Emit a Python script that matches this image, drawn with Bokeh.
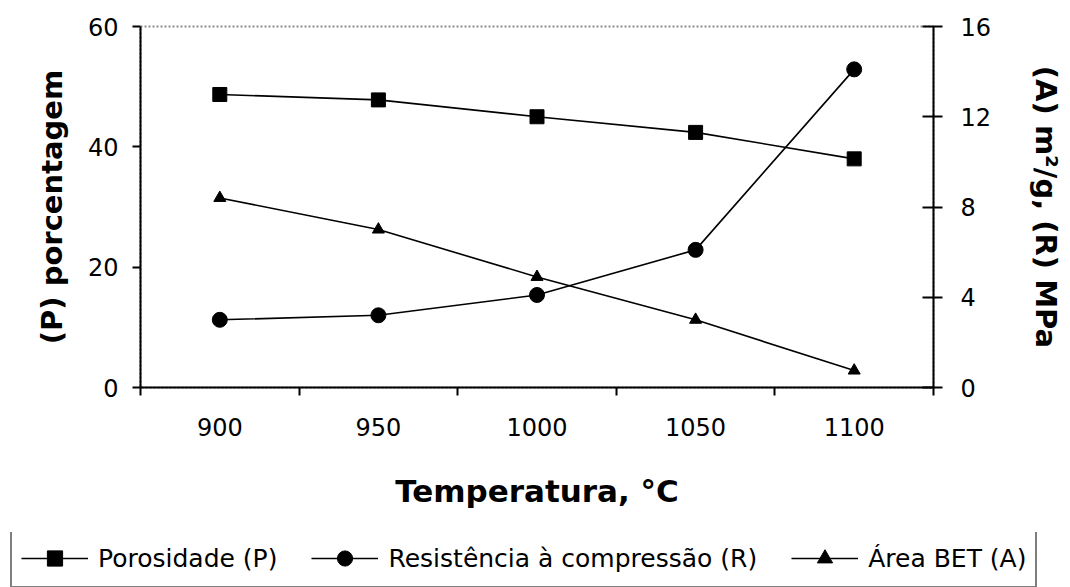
from bokeh.plotting import figure
from bokeh.layouts import column
from bokeh.models import Range1d, LinearAxis, FixedTicker, Legend, LegendItem
from bokeh.embed import file_html
from bokeh.resources import INLINE

# ---- data ----
temps = ["900", "950", "1000", "1050", "1100"]
porosidade = [48.7, 47.8, 45.0, 42.4, 38.0]      # left axis (%)
resistencia = [3.0, 3.2, 4.1, 6.1, 14.1]         # right axis (MPa)
area_bet = [8.4, 7.0, 4.9, 3.0, 0.75]            # right axis (m2/g)
left_ticks = [0, 20, 40, 60]
right_ticks = [0, 4, 8, 12, 16]

x = [i + 0.5 for i in range(len(temps))]
bounds = list(range(len(temps) + 1))

FONT = "DejaVu Sans"

p = figure(width=1070, height=532, output_backend="svg", toolbar_location=None,
           x_range=Range1d(0, len(temps)), y_range=Range1d(0, 60),
           min_border_left=140, min_border_right=137, min_border_top=26,
           min_border_bottom=145, x_axis_location=None, y_axis_location=None,
           frame_align=False)
p.xgrid.visible = False
p.ygrid.visible = False
p.outline_line_color = "#8c8c8c"
p.outline_line_dash = "2 2"
p.outline_line_width = 2
p.background_fill_color = "white"
p.border_fill_color = "white"
p.extra_y_ranges = {"right": Range1d(0, 16)}

# bottom axis
xa = LinearAxis(ticker=FixedTicker(ticks=x, minor_ticks=bounds),
                major_label_overrides={xv: t for xv, t in zip(x, temps)},
                axis_label="Temperatura, °C")
xa.major_tick_line_color = None
xa.major_tick_out = 0
xa.major_tick_in = 0
xa.minor_tick_out = 8
xa.minor_tick_in = 0
xa.minor_tick_line_color = "black"
xa.minor_tick_line_width = 2
xa.major_label_standoff = 22
xa.axis_label_standoff = 34
p.add_layout(xa, "below")

# left axis
ya = LinearAxis(ticker=FixedTicker(ticks=left_ticks), axis_label="(P) porcentagem")
ya.major_tick_out = 8
ya.major_tick_in = 0
ya.minor_tick_line_color = None
ya.major_label_standoff = 14
ya.axis_label_standoff = 16
p.add_layout(ya, "left")

# right axis
ra = LinearAxis(y_range_name="right", ticker=FixedTicker(ticks=right_ticks),
                axis_label="(A) m²/g, (R) MPa")
ra.major_tick_out = 9
ra.major_tick_in = 11
ra.minor_tick_line_color = None
ra.major_label_standoff = 18
ra.axis_label_standoff = 35
p.add_layout(ra, "right")

for ax in (xa, ya, ra):
    ax.axis_line_color = "black"
    ax.axis_line_width = 2
    ax.major_tick_line_width = 2
    ax.major_label_text_font = FONT
    ax.major_label_text_font_size = "24px"
    ax.major_label_text_color = "black"
    ax.axis_label_text_font = FONT
    ax.axis_label_text_font_style = "bold"
    ax.axis_label_text_font_size = "29px"
    ax.axis_label_text_color = "black"
xa.axis_label_text_font_size = "31px"


def draw_series(fig):
    rl1 = fig.line(x, porosidade, line_color="black", line_width=1.6)
    rm1 = fig.scatter(x, porosidade, marker="square", size=14, color="black")
    rl2 = fig.line(x, resistencia, line_color="black", line_width=1.6, y_range_name="right")
    rm2 = fig.scatter(x, resistencia, marker="circle", size=15, color="black", y_range_name="right")
    rl3 = fig.line(x, area_bet, line_color="black", line_width=1.6, y_range_name="right")
    rm3 = fig.scatter(x, area_bet, marker="triangle", size=12, color="black", y_range_name="right")
    return (rl1, rm1), (rl2, rm2), (rl3, rm3)


draw_series(p)

# legend strip (separate figure, series kept out of its view)
lg = figure(width=1070, height=55, output_backend="svg", toolbar_location=None,
            x_range=Range1d(100, 101), y_range=Range1d(100, 101),
            min_border=0, x_axis_location=None, y_axis_location=None,
            frame_align=False)
lg.extra_y_ranges = {"right": Range1d(100, 101)}
lg.xgrid.visible = False
lg.ygrid.visible = False
lg.outline_line_color = None
lg.background_fill_color = "white"
lg.border_fill_color = "white"
s1, s2, s3 = draw_series(lg)

legend = Legend(items=[
    LegendItem(label="Porosidade (P)", renderers=list(s1)),
    LegendItem(label="Resistência à compressão (R)", renderers=list(s2)),
    LegendItem(label="Área BET (A)", renderers=list(s3)),
], orientation="horizontal", location=(10, -1), glyph_width=67, glyph_height=38,
    label_height=38, label_standoff=10, spacing=34, padding=9, margin=0,
    label_text_font=FONT, label_text_font_size="25px", label_text_color="black",
    border_line_color="black", border_line_width=2, background_fill_color="white",
    background_fill_alpha=1.0)
lg.add_layout(legend, "center")

layout = column(p, lg, spacing=0)
open("out.html", "w").write(file_html(layout, INLINE))
